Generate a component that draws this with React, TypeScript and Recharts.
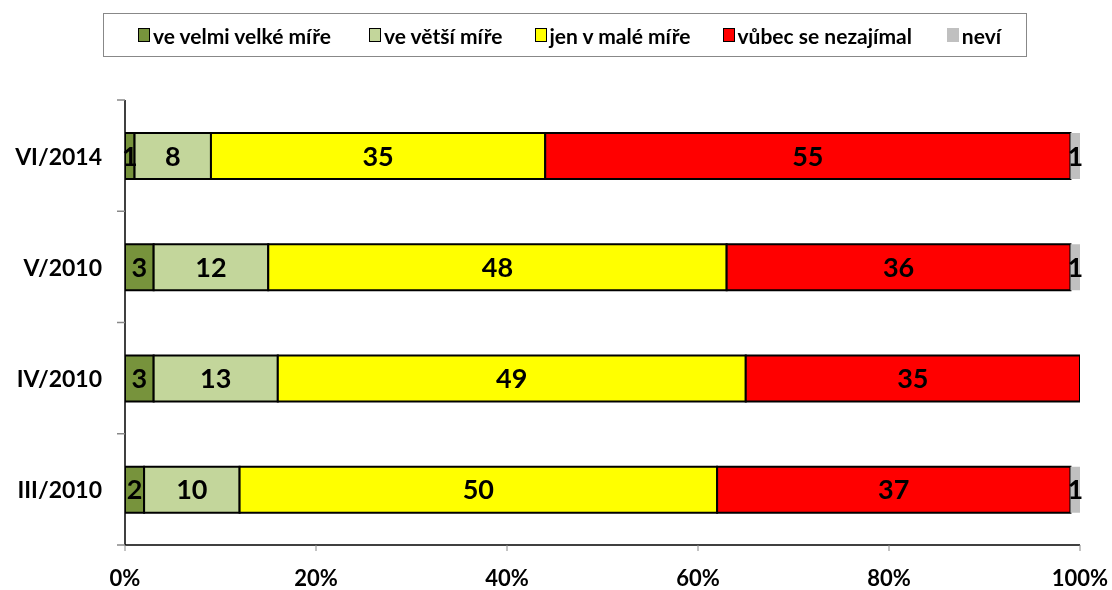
import { BarChart, Bar, XAxis, YAxis, LabelList } from "recharts"

const periods = ["VI/2014", "V/2010", "IV/2010", "III/2010"]
const velmiVelke = [1, 3, 3, 2]
const vetsi = [8, 12, 13, 10]
const male = [35, 48, 49, 50]
const vubec = [55, 36, 35, 37]
const nevi = [1, 1, 0, 1]
const xTicks = [0, 20, 40, 60, 80, 100]

const series = [
  { key: "velmi", name: "ve velmi velké míře", color: "#77933C", stroke: "#000" },
  { key: "vetsi", name: "ve větší míře", color: "#C3D69B", stroke: "#000" },
  { key: "male", name: "jen v malé míře", color: "#FFFF00", stroke: "#000" },
  { key: "vubec", name: "vůbec se nezajímal", color: "#FF0000", stroke: "#000" },
  { key: "nevi", name: "neví", color: "#C0C0C0", stroke: "none" },
]

const data = periods.map((p, i) => ({
  period: p,
  velmi: velmiVelke[i],
  vetsi: vetsi[i],
  male: male[i],
  vubec: vubec[i],
  nevi: nevi[i],
}))

const font = "Lato, 'Open Sans', sans-serif"
const TICK_SIZE = 8
const TICK_MARGIN = 15

// category label plus Excel-style tick marks on the band boundaries
function PeriodTick(props: any) {
  const { x, y, payload, index, visibleTicksCount } = props
  const half = payload?.offset ?? 0
  const x2 = x + TICK_MARGIN + TICK_SIZE
  const x1 = x2 - TICK_SIZE
  return (
    <g>
      <line x1={x1} x2={x2} y1={y - half} y2={y - half} stroke="#888" strokeWidth={1.5} />
      {index === visibleTicksCount - 1 && (
        <line x1={x1} x2={x2} y1={y + half} y2={y + half} stroke="#888" strokeWidth={1.5} />
      )}
      <text
        x={x}
        y={y}
        textAnchor="end"
        dominantBaseline="central"
        fill="#000"
        fontFamily={font}
        fontWeight={700}
        fontSize={23}
      >
        {payload.value}
      </text>
    </g>
  )
}

function LegendBox() {
  const gaps = [0, 38, 32, 32, 35]
  return (
    <div
      style={{
        position: "absolute",
        left: 103,
        top: 13,
        width: 924,
        height: 44,
        border: "1px solid #888",
        display: "flex",
        alignItems: "center",
        paddingLeft: 34,
        boxSizing: "border-box",
        fontFamily: font,
        fontWeight: 700,
        fontSize: 21,
        color: "#000",
        whiteSpace: "nowrap",
      }}
    >
      {series.map((s, i) => (
        <div key={s.key} style={{ display: "flex", alignItems: "center", marginLeft: gaps[i] }}>
          <span
            style={{
              display: "inline-block",
              width: 10,
              height: 12,
              background: s.color,
              border: s.stroke === "none" ? "1px solid #C0C0C0" : "1px solid #000",
              marginRight: 3,
            }}
          />
          <span>{s.name}</span>
        </div>
      ))}
    </div>
  )
}

export default function App() {
  return (
    <div style={{ position: "fixed", left: 0, top: 0, width: 1112, height: 590 }}>
      <LegendBox />
      <BarChart
        width={1112}
        height={590}
        data={data}
        layout="vertical"
        barSize={46}
        margin={{ top: 100, right: 32, bottom: 5, left: 0 }}
      >
        <XAxis
          type="number"
          domain={[0, 100]}
          ticks={xTicks}
          tickFormatter={(v) => `${v}%`}
          height={40}
          axisLine={{ stroke: "#000", strokeWidth: 1.5 }}
          tickLine={{ stroke: "#888" }}
          tickSize={6}
          tickMargin={19}
          tick={{ fill: "#000", fontFamily: font, fontWeight: 700, fontSize: 22 }}
          allowDataOverflow
        />
        <YAxis
          type="category"
          dataKey="period"
          width={125}
          axisLine={{ stroke: "#000", strokeWidth: 1.5 }}
          tickLine={false}
          tickSize={TICK_SIZE}
          tickMargin={TICK_MARGIN}
          tick={<PeriodTick />}
        />
        {series.map((s) => (
          <Bar
            key={s.key}
            dataKey={s.key}
            name={s.name}
            stackId="a"
            fill={s.color}
            stroke={s.stroke}
            strokeWidth={2}
            isAnimationActive={false}
          >
            <LabelList
              dataKey={s.key}
              position="center"
              formatter={(v: any) => (v === 0 ? "" : v)}
              style={{ fill: "#000", fontFamily: font, fontWeight: 700, fontSize: 27 }}
            />
          </Bar>
        ))}
      </BarChart>
    </div>
  )
}
